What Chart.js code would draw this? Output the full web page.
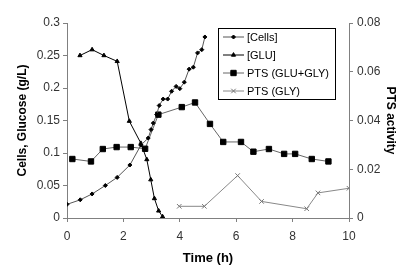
<!DOCTYPE html>
<html>
<head>
<meta charset="utf-8">
<script src="https://cdn.jsdelivr.net/npm/chart.js@4/dist/chart.umd.min.js"></script>
<style>
  html, body { margin: 0; padding: 0; background: #fff; }
  #wrap { position: relative; width: 415px; height: 277px; }
</style>
</head>
<body>
<div id="wrap"><canvas id="c" width="415" height="277"></canvas></div>
<script>
// ---- data ----
const cellsTime = [0, 0.47, 0.89, 1.36, 1.78, 2.23, 2.62, 2.88, 2.98, 3.06, 3.18, 3.27, 3.41, 3.57, 3.71, 3.87, 4.0, 4.16, 4.33, 4.48, 4.63, 4.78, 4.89];
const cellsConc = [0.021, 0.028, 0.037, 0.050, 0.0625, 0.0815, 0.112, 0.123, 0.136, 0.146, 0.159, 0.173, 0.183, 0.183, 0.195, 0.2025, 0.199, 0.209, 0.229, 0.232, 0.254, 0.259, 0.2785];

const gluTime = [0.46, 0.89, 1.31, 1.78, 2.21, 2.62, 2.83, 2.97, 3.1, 3.25, 3.39];
const gluConc = [0.25, 0.259, 0.25, 0.241, 0.149, 0.115, 0.09, 0.059, 0.03, 0.011, 0.002];

const ptsTime = [0.19, 0.85, 1.27, 1.76, 2.26, 2.77, 3.24, 4.07, 4.54, 5.07, 5.54, 6.17, 6.61, 7.16, 7.70, 8.09, 8.68, 9.27];
const ptsAct  = [0.0242, 0.0232, 0.0283, 0.0291, 0.0291, 0.0284, 0.0424, 0.0455, 0.0474, 0.0386, 0.0312, 0.0312, 0.0272, 0.0283, 0.0263, 0.0263, 0.0242, 0.0232];

const glyTime = [3.98, 4.87, 6.05, 6.90, 8.5, 8.9, 10.0];
const glyAct  = [0.0048, 0.0048, 0.0174, 0.0068, 0.0038, 0.0103, 0.0122];

const seriesNames = ['[Cells]', '[GLU]', 'PTS (GLU+GLY)', 'PTS (GLY)'];

const xTickLabels  = ['0', '2', '4', '6', '8', '10'];
const yTickLabels  = ['0', '0.05', '0.1', '0.15', '0.2', '0.25', '0.3'];
const y2TickLabels = ['0', '0.02', '0.04', '0.06', '0.08'];

const xTitle = 'Time (h)';
const yTitle = 'Cells, Glucose (g/L)';
const y2Title = 'PTS activity';

function pts(xs, ys) { return xs.map((x, i) => ({ x: x, y: ys[i] })); }

const FONT = "Arial, 'Liberation Sans', sans-serif";

// legend drawn inside the plot, like the original
const insideLegend = {
  id: 'insideLegend',
  afterDraw(chart) {
    const ctx = chart.ctx;
    const bx = 218.5, by = 28.5, bw = 117, bh = 71;
    ctx.save();
    ctx.fillStyle = '#fff';
    ctx.fillRect(bx, by, bw, bh);
    ctx.strokeStyle = '#000';
    ctx.lineWidth = 1;
    ctx.strokeRect(bx, by, bw, bh);
    ctx.font = '11px ' + FONT;
    ctx.textBaseline = 'middle';
    chart.data.datasets.forEach((ds, i) => {
      const y = 37 + i * 18;
      ctx.strokeStyle = ds.borderColor;
      ctx.lineWidth = ds.borderWidth;
      ctx.beginPath();
      ctx.moveTo(223, y);
      ctx.lineTo(244, y);
      ctx.stroke();
      ctx.fillStyle = ds.pointBackgroundColor;
      ctx.strokeStyle = ds.pointBorderColor;
      ctx.lineWidth = 1;
      Chart.helpers.drawPoint(ctx, { pointStyle: ds.pointStyle, radius: ds.pointRadius, borderWidth: 1, rotation: 0 }, 233.5, y);
      ctx.fillStyle = '#000';
      ctx.fillText(ds.label, 247, y + 0.5);
    });
    ctx.restore();
  }
};

const axisColor = '#808080';

new Chart(document.getElementById('c'), {
  type: 'line',
  data: {
    datasets: [
      {
        label: seriesNames[0], data: pts(cellsTime, cellsConc), yAxisID: 'y',
        borderColor: '#555', borderWidth: 1, pointStyle: 'rectRot', pointRadius: 2,
        pointBackgroundColor: '#000', pointBorderColor: '#000', pointBorderWidth: 1
      },
      {
        label: seriesNames[1], data: pts(gluTime, gluConc), yAxisID: 'y',
        borderColor: '#000', borderWidth: 1, pointStyle: 'triangle', pointRadius: 2.4,
        pointBackgroundColor: '#000', pointBorderColor: '#000', pointBorderWidth: 1
      },
      {
        label: seriesNames[2], data: pts(ptsTime, ptsAct), yAxisID: 'y2',
        borderColor: '#666', borderWidth: 1, pointStyle: 'rect', pointRadius: 3.8,
        pointBackgroundColor: '#000', pointBorderColor: '#000', pointBorderWidth: 1
      },
      {
        label: seriesNames[3], data: pts(glyTime, glyAct), yAxisID: 'y2',
        borderColor: '#888', borderWidth: 1, pointStyle: 'crossRot', pointRadius: 3.2,
        pointBackgroundColor: '#777', pointBorderColor: '#777', pointBorderWidth: 1
      }
    ]
  },
  options: {
    responsive: false,
    animation: false,
    devicePixelRatio: 1,
    layout: { padding: { top: 23, left: 0, right: 0, bottom: 0 } },
    elements: { line: { tension: 0 } },
    plugins: { legend: { display: false }, tooltip: { enabled: false } },
    scales: {
      x: {
        type: 'linear', min: 0, max: 10,
        afterFit: s => { s.height = 59; },
        border: { color: axisColor, width: 1 },
        grid: { display: true, drawOnChartArea: false, drawTicks: true, tickLength: 4, color: axisColor },
        ticks: {
          stepSize: 2, padding: 7, color: '#333', font: { family: FONT, size: 12 },
          maxRotation: 0,
          callback: (v) => { const i = Math.round(v / 2); return xTickLabels[i]; }
        },
        title: { display: true, text: xTitle, color: '#000', font: { family: FONT, size: 13, weight: 'bold' }, padding: { top: 0, bottom: 11 } }
      },
      y: {
        type: 'linear', position: 'left', min: 0, max: 0.3,
        afterFit: s => { s.width = 67; },
        border: { color: axisColor, width: 1 },
        grid: { display: true, drawOnChartArea: false, drawTicks: true, tickLength: 4, color: axisColor },
        ticks: {
          stepSize: 0.05, padding: 3, color: '#333', font: { family: FONT, size: 12 },
          callback: (v) => { const i = Math.round(v / 0.05); return yTickLabels[i]; }
        },
        title: { display: true, text: yTitle, color: '#000', font: { family: FONT, size: 12, weight: 'bold' }, padding: { top: 15, bottom: 0 } }
      },
      y2: {
        type: 'linear', position: 'right', min: 0, max: 0.08,
        afterFit: s => { s.width = 66; },
        border: { color: axisColor, width: 1 },
        grid: { display: true, drawOnChartArea: false, drawTicks: true, tickLength: 4, color: axisColor },
        ticks: {
          stepSize: 0.02, padding: 4, color: '#333', font: { family: FONT, size: 12 },
          callback: (v) => { const i = Math.round(v / 0.02); return y2TickLabels[i]; }
        },
        title: { display: true, text: y2Title, color: '#000', font: { family: FONT, size: 12, weight: 'bold' }, padding: { top: 17, bottom: 0 } }
      }
    }
  },
  plugins: [insideLegend]
});
</script>
</body>
</html>
